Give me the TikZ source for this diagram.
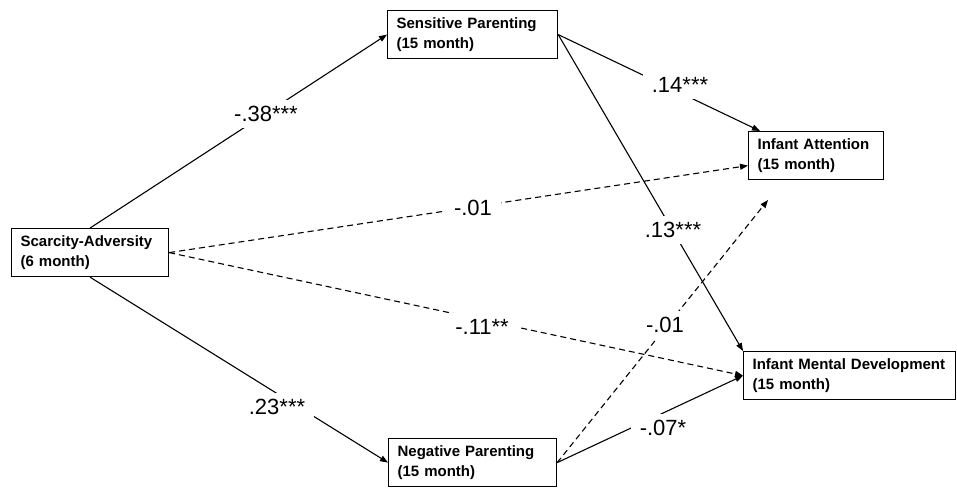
\documentclass[tikz,border=0pt]{standalone}
\usepackage{fontspec}
\setmainfont{Liberation Sans}
\usetikzlibrary{arrows.meta,calc}
\begin{document}
\begin{tikzpicture}[x=1pt,y=-1pt,
  box/.style={draw, line width=1.2pt, anchor=north west, minimum height=48pt,
    inner xsep=9pt, inner ysep=0pt, align=left,
    font=\bfseries\fontsize{15}{20}\selectfont},
  conn/.style={line width=1.1pt, -{Triangle[length=8pt,width=6pt]}},
  dconn/.style={conn, dash pattern=on 6pt off 4pt},
  coef/.style={fill=white, inner xsep=9pt, inner ysep=6pt, font=\fontsize{22}{26}\selectfont}
]
\useasboundingbox (0,0) rectangle (957,487);
\node[box, text width=139pt] (sa) at (11,228) {Scarcity-Adversity\\(6 month)};
\node[box, text width=152pt] (sp) at (387,10) {Sensitive Parenting\\(15 month)};
\node[box, text width=117pt] (ia) at (748,131) {Infant Attention\\(15 month)};
\node[box, text width=194pt] (imd) at (743,351) {Infant Mental Development\\(15 month)};
\node[box, text width=150pt] (np) at (388,438) {Negative Parenting\\(15 month)};
\coordinate (free) at (768,200);

\draw[conn] (sa.north) -- (sp.west);
\draw[conn] (sa.south) -- (np.west);
\draw[dconn] (sa.east) -- ($(ia.west)+(0,10)$);
\draw[dconn] (sa.east) -- (imd.west);
\draw[conn] (sp.east) -- ($(ia.north west)+(12,0)$);
\draw[conn] (sp.east) -- (imd.north west);
\draw[dconn] (np.east) -- (free);
\draw[conn] (np.east) -- (imd.west);

\node[coef] (c1) at (266,114) {-.38***};
\node[coef] (c2) at (277,407) {.23***};
\node[coef] (c3) at (473,208) {-.01};
\node[coef] (c4) at (482,327) {-.11**};
\node[coef] (c5) at (680,85) {.14***};
\node[coef] (c6) at (673,230) {.13***};
\node[coef] (c7) at (665,325) {-.01};
\node[coef] (c8) at (663,428) {-.07*};
\end{tikzpicture}
\end{document}
